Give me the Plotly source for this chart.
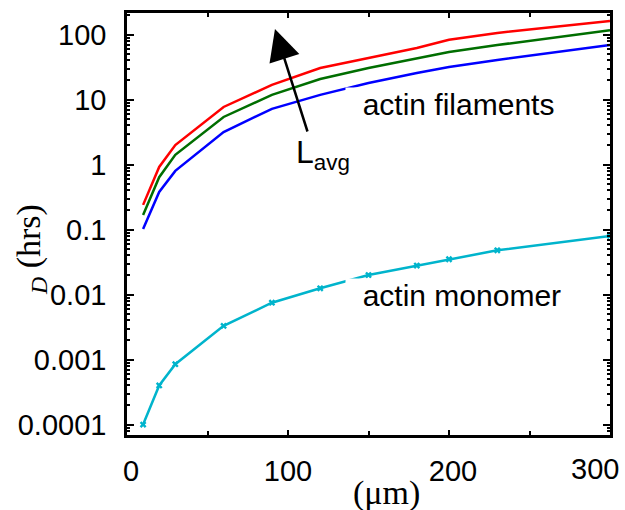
import plotly.graph_objects as go
import math

# Data
x_vals = [10, 20, 30, 60, 90, 120, 150, 180, 200, 230, 300]
red_vals = [0.24, 0.92, 2.0, 7.7, 16.8, 30.6, 43.7, 62, 83, 106, 162]
green_vals = [0.168, 0.64, 1.41, 5.4, 11.8, 20.7, 30.6, 43.7, 54, 69, 117]
blue_vals = [0.102, 0.38, 0.80, 3.17, 7.2, 11.8, 18, 25.7, 31.6, 40.7, 69]
monomer_vals = [0.0001, 0.0004, 0.00085, 0.0033, 0.0075, 0.0125, 0.02, 0.028, 0.035, 0.048, 0.08]

y_tickvals = [0.0001, 0.001, 0.01, 0.1, 1, 10, 100]
y_ticktext = ["0.0001", "0.001", "0.01", "0.1", "1", "10", "100"]
x_tickvals = [0, 100, 200, 300]
x_ticktext = ["&nbsp;0", "100", "&nbsp;200", ""]
x_last_label = "300"

fig = go.Figure()
for vals, col in [(red_vals, "#ff0000"), (green_vals, "#006e00"), (blue_vals, "#0000ff")]:
    fig.add_trace(go.Scatter(x=x_vals, y=vals, mode="lines",
                             line=dict(color=col, width=2.5), showlegend=False))
fig.add_trace(go.Scatter(x=x_vals, y=monomer_vals, mode="lines+markers",
                         line=dict(color="#00b4cc", width=2.5),
                         marker=dict(symbol="x", size=6, color="#00b4cc"),
                         showlegend=False))

font_sans = "Liberation Sans, Arial, sans-serif"
font_serif = "Liberation Serif, Times New Roman, serif"

axis_common = dict(showline=True, linecolor="black", linewidth=2.5, mirror="ticks",
                   ticks="inside", tickcolor="black", tickwidth=2, showgrid=False,
                   zeroline=False, ticklabeloverflow="allow", automargin=False,
                   tickfont=dict(family=font_sans, size=29, color="black"))

fig.update_xaxes(range=[0, 300], tickvals=x_tickvals, ticktext=x_ticktext, ticklen=5,
                 minor=dict(dtick=50, ticks="inside", ticklen=4, tickcolor="black", tickwidth=1.5),
                 ticklabelstandoff=8, **axis_common)
fig.update_yaxes(type="log", range=[-4.16, 2.332], tickvals=y_tickvals, ticktext=y_ticktext,
                 ticklen=7,
                 minor=dict(dtick="D1", ticks="inside", ticklen=3, tickcolor="black", tickwidth=1.5),
                 ticklabelstandoff=12, **axis_common)

annotations = [
    dict(x=(621 - 127) / 483, y=-34 / 422, xref="paper", yref="paper", text=x_last_label,
         showarrow=False, xanchor="right", yanchor="middle",
         font=dict(family=font_sans, size=29, color="black")),
    dict(x=135.4, y=0.9208, xref="x", yref="y", text="&nbsp;&nbsp;actin filaments",
         showarrow=False, xanchor="left", yanchor="middle", bgcolor="white", borderpad=0,
         font=dict(family=font_sans, size=30, color="black")),
    dict(x=135.4, y=-2.0177, xref="x", yref="y", text="&nbsp;&nbsp;actin monomer",
         showarrow=False, xanchor="left", yanchor="middle", bgcolor="white", borderpad=0,
         font=dict(family=font_sans, size=30, color="black")),
    dict(x=104, y=0.148, xref="x", yref="y", text="L<sub>avg</sub>",
         showarrow=False, xanchor="left", yanchor="middle",
         font=dict(family=font_sans, size=32, color="black")),
    dict(x=91.9, y=2.086, xref="x", yref="y", ax=112.4, ay=0.486, axref="x", ayref="y",
         text="", showarrow=True, arrowhead=2, arrowsize=2.5, arrowwidth=2.5,
         arrowcolor="black", standoff=0),
    dict(x=(386 - 127) / 483, y=-58 / 422, xref="paper", yref="paper", text="(μm)",
         showarrow=False, xanchor="center", yanchor="middle",
         font=dict(family=font_serif, size=34, color="black")),
    dict(x=(31 - 127) / 483, y=(435 - 250) / 422, xref="paper", yref="paper",
         text="<sub><i>D</i></sub> (hrs)", textangle=-90,
         showarrow=False, xanchor="center", yanchor="middle",
         font=dict(family=font_serif, size=34, color="black")),
]

fig.update_layout(width=625, height=510, margin=dict(l=127, r=15, t=13, b=75, autoexpand=False),
                  paper_bgcolor="white", plot_bgcolor="white",
                  annotations=annotations, showlegend=False)

fig.write_html("out.html")
